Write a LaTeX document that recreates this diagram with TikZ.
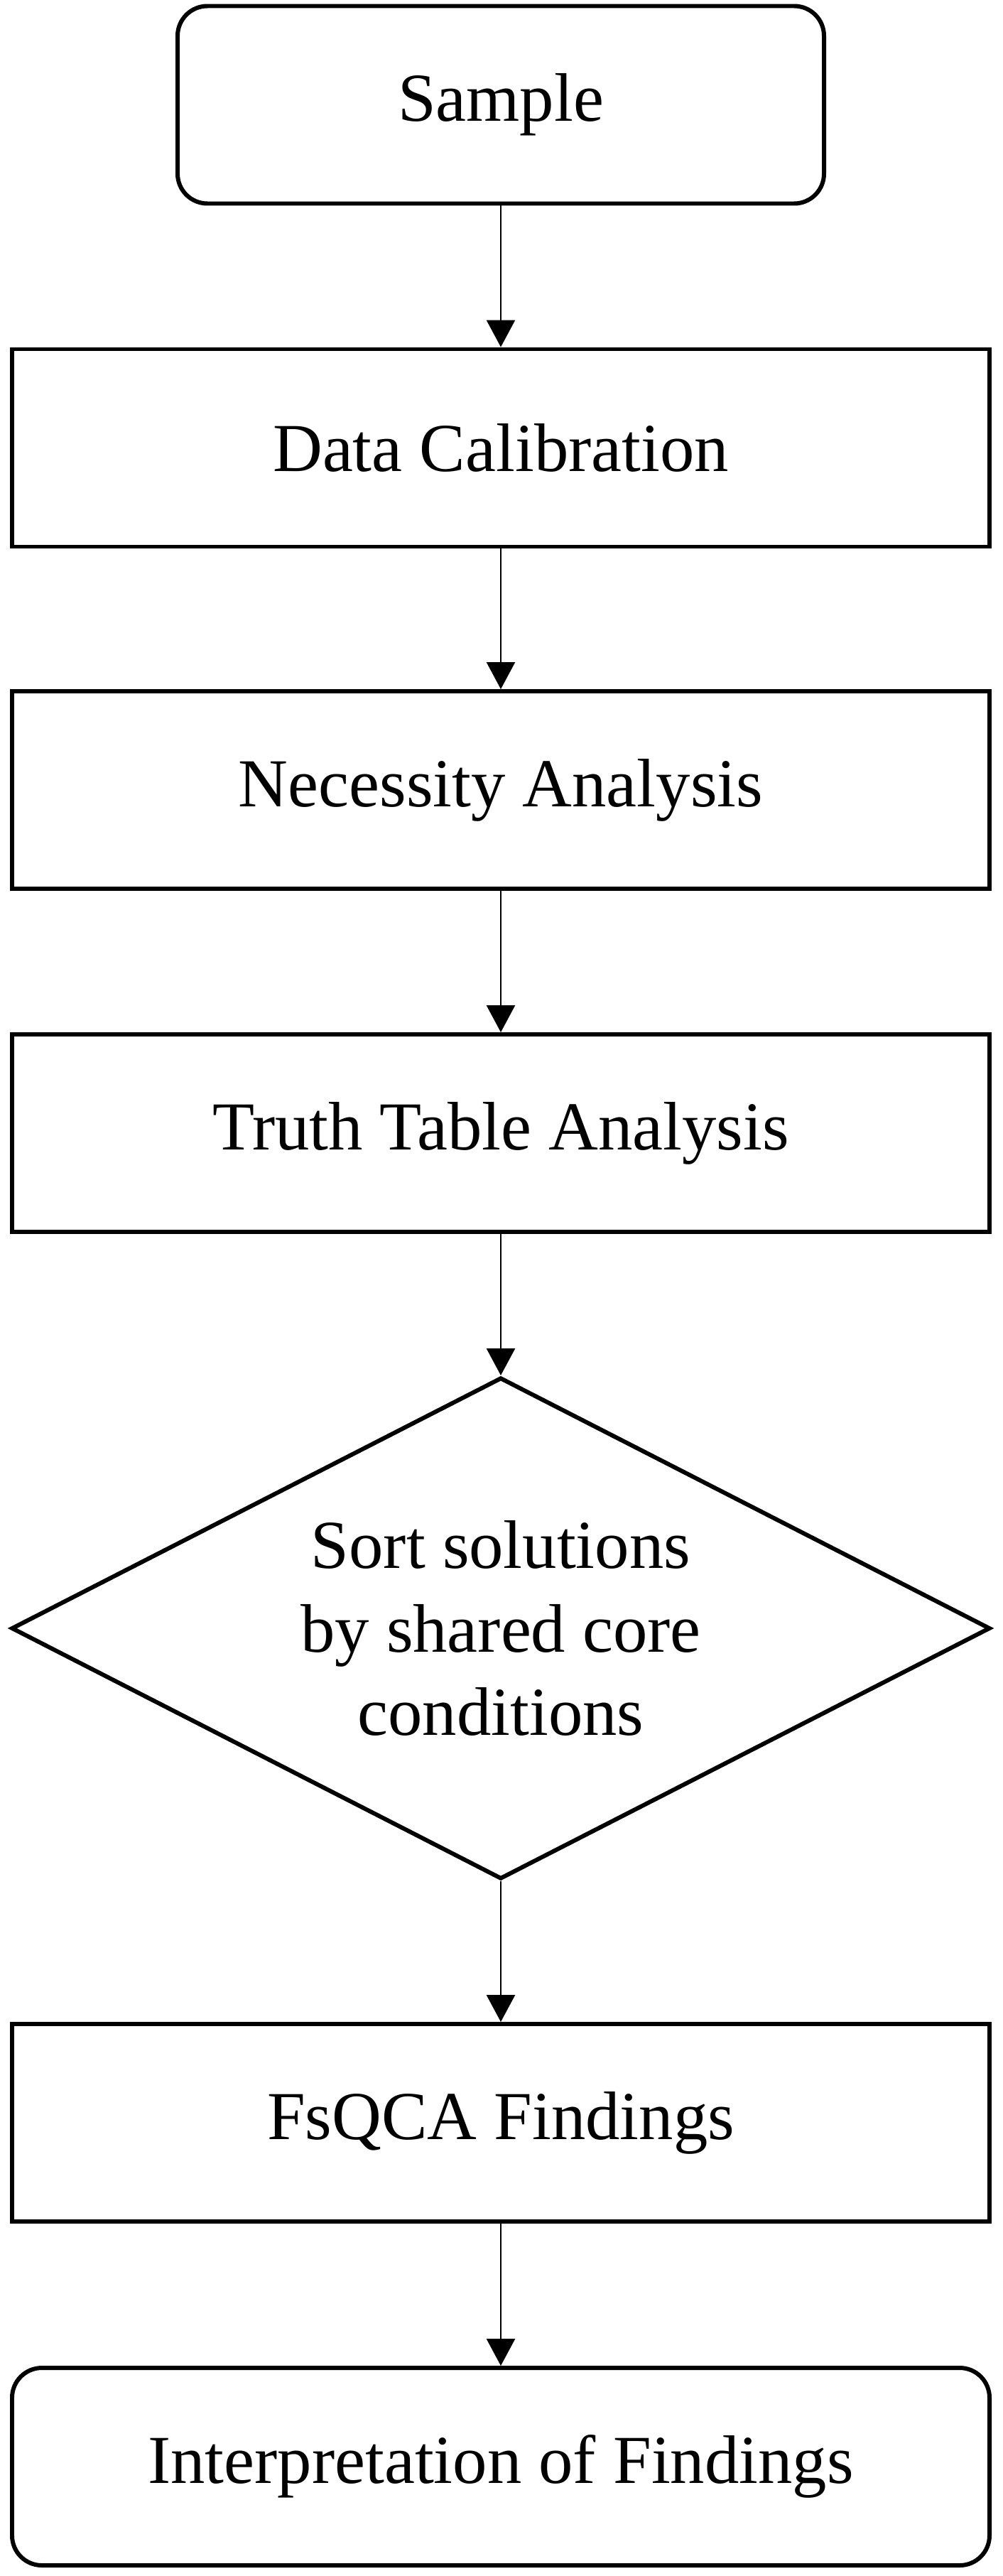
\documentclass[tikz,border=0pt]{standalone}
\usepackage{fontspec}
\setmainfont{Liberation Serif}
\usepackage{tikz}
\usetikzlibrary{shapes.geometric,arrows.meta}

\begin{document}
\begin{tikzpicture}[
    >={Triangle[width=0.4cm,length=0.38cm]},
    box/.style={shape=rectangle, draw, line width=1.7pt, minimum width=13.76cm, minimum height=2.78cm,
      font=\fontsize{27.5}{33.5}\selectfont},
    rbox/.style={box, rounded corners=0.42cm},
    decision/.style={shape=diamond, draw, line width=1.7pt, aspect=1.94, inner sep=0pt,
      minimum width=13.78cm, minimum height=7.06cm, align=center,
      font=\fontsize{27.5}{33.5}\selectfont},
    flow/.style={->, line width=0.8pt}]
    \useasboundingbox (0,0) rectangle (14.12,-36.26);

    \node[rbox, minimum width=9.1cm] (sample) at (7.05,-1.475) {Sample};
    \node[box] (calib) at (7.05,-6.305) {Data Calibration};
    \node[box] (necess) at (7.05,-11.12) {Necessity Analysis};
    \node[box] (truth) at (7.05,-15.95) {Truth Table Analysis};
    \node[decision] (sortsol) at (7.05,-22.92) {Sort solutions\\by shared core\\conditions};
    \node[box] (fsqca) at (7.05,-29.88) {FsQCA Findings};
    \node[rbox] (interp) at (7.05,-34.72) {Interpretation of Findings};

    \draw[flow] (sample) -- (calib);
    \draw[flow] (calib) -- (necess);
    \draw[flow] (necess) -- (truth);
    \draw[flow] (truth) -- (sortsol);
    \draw[flow] (sortsol) -- (fsqca);
    \draw[flow] (fsqca) -- (interp);
  \end{tikzpicture}
\end{document}
